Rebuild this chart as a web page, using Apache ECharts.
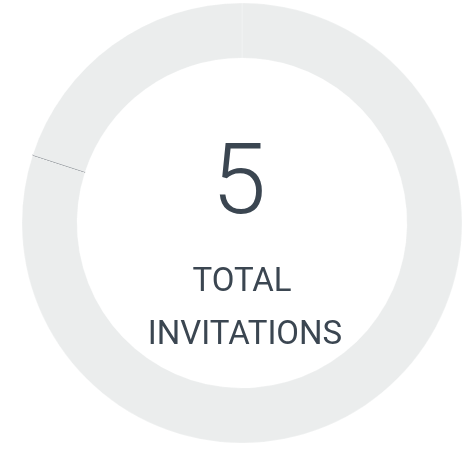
<!DOCTYPE html>
<html>
<head>
<meta charset="utf-8">
<script src="https://cdn.jsdelivr.net/npm/echarts@6/dist/echarts.min.js"></script>
<style>
html,body{margin:0;padding:0;background:#fff;}
#c{width:465px;height:452px;}
</style>
</head>
<body>
<div id="c"></div>
<script>
var categories = ['Pending', 'Accepted', 'Declined'];
var values = [4, 0, 1];
var totalLabel = ['TOTAL', 'INVITATIONS'];
var total = values.reduce(function (a, b) { return a + b; }, 0);

var ringColor = '#ebeded';
var borderColors = ['rgba(255,255,255,0.25)', '#80868c', 'rgba(255,255,255,0.25)'];

var chart = echarts.init(document.getElementById('c'), null, {renderer: 'canvas'});
chart.setOption({
  animation: false,
  backgroundColor: '#ffffff',
  series: [{
    type: 'pie',
    center: [242, 223],
    radius: [165, 220],
    startAngle: 90,
    clockwise: true,
    silent: true,
    z: 1,
    label: {show: false},
    labelLine: {show: false},
    data: categories.map(function (name, i) {
      return {
        name: name,
        value: values[i],
        itemStyle: {color: ringColor, borderColor: borderColors[i], borderWidth: 1}
      };
    })
  }],
  graphic: [
    {type: 'text', z: 10, x: 239, y: 237, style: {text: String(total), fill: '#3b4651', font: '300 98px Roboto', textAlign: 'center', textVerticalAlign: 'bottom'}},
    {type: 'text', z: 10, x: 242, y: 266, style: {text: totalLabel[0], fill: '#3b4651', font: '400 33px Roboto', textAlign: 'center', textVerticalAlign: 'top'}},
    {type: 'text', z: 10, x: 245, y: 319, style: {text: totalLabel[1], fill: '#3b4651', font: '400 33px Roboto', textAlign: 'center', textVerticalAlign: 'top'}}
  ]
});
</script>
</body>
</html>
